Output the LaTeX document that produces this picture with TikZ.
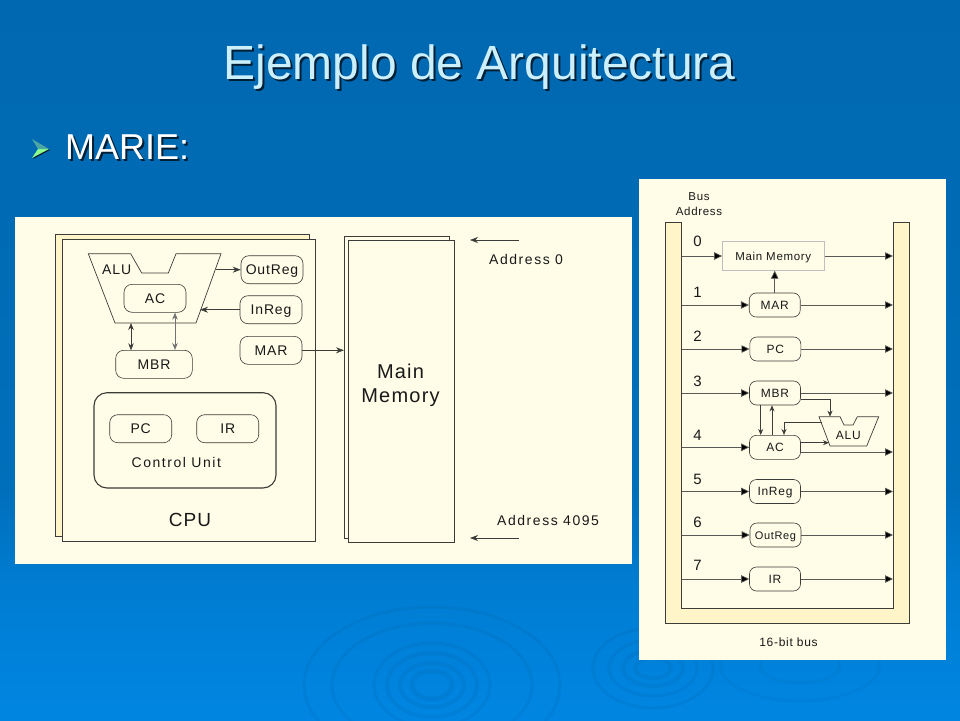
\documentclass[tikz,border=0pt]{standalone}
\usepackage{fontspec}
\usetikzlibrary{arrows.meta}
\setmainfont{Liberation Sans}
\newfontfamily\regfont[LetterSpace=6]{Liberation Sans}
\newfontfamily\widefont[LetterSpace=11]{Liberation Sans}
\definecolor{slidetop}{HTML}{0068B0}
\definecolor{panel}{HTML}{FFFDE8}
\definecolor{busfill}{HTML}{FFF5C8}
\definecolor{ink}{HTML}{3C3C38}
\pgfdeclareverticalshading{slideback}{100bp}{
	rgb(0bp)=(0,0.525,0.886);
	rgb(25bp)=(0,0.525,0.886);
	rgb(34bp)=(0,0.490,0.825);
	rgb(41bp)=(0,0.435,0.733);
	rgb(75bp)=(0,0.408,0.690);
	rgb(100bp)=(0,0.408,0.690)}
\tikzset{
	wire/.style={draw=ink, line width=0.7pt},
	reg/.style={draw=ink, line width=0.6pt, fill=panel, rounded corners=8pt, inner sep=0pt, text=black!90,
		font=\regfont\fontsize{14}{16}\selectfont, text height=10pt, text depth=0pt, minimum width=62pt, minimum height=28pt},
	smallreg/.style={reg, rounded corners=7pt, minimum width=51pt, minimum height=24pt,
		font=\regfont\fontsize{12}{14}\selectfont, text height=8.6pt},
	note/.style={text=black!90, inner sep=0pt, text height=10pt, text depth=0pt, font=\widefont\fontsize{14}{16}\selectfont},
	busnum/.style={text=black!90, inner sep=0pt, font=\fontsize{15}{17}\selectfont},
	leftarr/.style={wire, -{Stealth[length=8pt,width=6pt]}},
	bothleft/.style={wire, {Stealth[length=7pt,width=5.5pt]}-{Stealth[length=7pt,width=5.5pt]}},
	busarr/.style={wire, draw=ink!85, -{Triangle[length=8pt,width=7.5pt,fill=black]}},
	tinyarr/.style={wire, -{Stealth[length=6pt,width=5pt]}},
	ripple/.style={draw=black, opacity=0.04}
}
\begin{document}
\begin{tikzpicture}[x=1pt,y=-1pt]
	\useasboundingbox (0,0) rectangle (960,720);
	\shade[shading=slideback] (0,0) rectangle (960,720);
	% ripples
	\begin{scope}
		\clip (0,0) rectangle (960,720);
		\foreach \rx/\ry/\lw in {20/14/5, 32/22/4, 45/32/4, 58/42/3, 100/62/3, 128/78/3}
			\draw[ripple, line width=\lw pt] (432,685) ellipse ({\rx pt} and {\ry pt});
		\foreach \rx/\ry/\lw in {18/10/4, 30/18/4, 44/28/3, 60/40/3}
			\draw[ripple, line width=\lw pt] (653,668) ellipse ({\rx pt} and {\ry pt});
		\foreach \rx/\ry/\lw in {40/18/3, 80/36/3}
			\draw[ripple, line width=\lw pt, opacity=0.025] (800,665) ellipse ({\rx pt} and {\ry pt});
	\end{scope}

	% title
	\node[anchor=base, inner sep=0pt, text=black!70!slidetop, font=\fontsize{48}{56}\selectfont] (titleshade) at (481.5,81) {Ejemplo de Arquitectura};
	\node[anchor=base, inner sep=0pt, text=white!80!cyan, font=\fontsize{48}{56}\selectfont] (title) at (479.5,79) {Ejemplo de Arquitectura};
	\fill[black!70!slidetop] (33,140) -- (50,150) -- (33,159) -- (39,150) -- cycle;
	\fill[green!45!white] (32,158) -- (49,149) -- (38,149) -- cycle;
	\fill[teal!70!white] (32,139) -- (49,149) -- (38,149) -- cycle;
	\node[anchor=base west, inner sep=0pt, text=black!70!slidetop, font=\fontsize{36}{42}\selectfont] (marieshade) at (67,161) {MARIE:};
	\node[anchor=base west, inner sep=0pt, text=white, font=\fontsize{36}{42}\selectfont] (marie) at (65,159) {MARIE:};

	% left panel
	\fill[panel] (15,217) rectangle (632,564);
	\draw[wire, fill=busfill] (55,234) rectangle (309,536);
	\draw[wire, fill=panel] (62,239.5) rectangle (315,541);
	\draw[wire, fill=panel] (88.3,253.7) -- (130.7,253.7) -- (141.7,273) -- (168.3,273) -- (176,253.7)
		-- (221,253.7) -- (196,323) -- (115,323) -- cycle;
	\node[inner sep=0pt, text=black!90, text height=10pt, text depth=0pt, font=\regfont\fontsize{14}{16}\selectfont] (alu) at (116.7,269) {ALU};
	\node[reg] (ac) at (155,298.3) {AC};
	\node[reg, minimum width=76.6pt] (mbr) at (154,364.3) {MBR};
	\node[reg] (outreg) at (272,269.7) {OutReg};
	\node[reg] (inreg) at (271,309.7) {InReg};
	\node[reg] (mar) at (271,350.3) {MAR};
	\draw[wire, line width=1.1pt, rounded corners=13pt] (94,392.7) rectangle (276,488);
	\node[reg] (pc) at (140.7,428.7) {PC};
	\node[reg] (ir) at (227.7,428.7) {IR};
	\node[note] (ctrl) at (176.3,462.7) {Control Unit};
	\node[inner sep=0pt, text=black!90, font=\regfont\fontsize{19}{22}\selectfont] (cpu) at (190,519.7) {CPU};
	\coordinate (aluout) at (216,269.7);
	\coordinate (aluin) at (200,309.7);
	\coordinate (alulow) at (131,323);
	\coordinate (mbrup) at (131,350.3);
	\draw[leftarr] (aluout) -- (outreg.west);
	\draw[leftarr] (inreg.west) -- (aluin);
	\draw[bothleft] (alulow) -- (mbrup);
	\draw[bothleft, draw=black!55] ([xshift=20pt]ac.south) -- ([xshift=21pt]mbr.north);

	\draw[wire, fill=panel] (344,236) rectangle (449,538);
	\draw[wire, fill=panel] (348,240) rectangle (454,542);
	\node[align=center, inner sep=0pt, text=black!90, font=\regfont\fontsize{20}{24}\selectfont] (mem) at (400.5,385.5) {Main\\Memory};
	\coordinate (memin) at (344,350.3);
	\draw[leftarr] (mar.east) -- (memin);
	\node[note, anchor=west] (addr0) at (489,259.5) {Address 0};
	\node[note, anchor=west] (addrn) at (497,520.5) {Address 4095};
	\coordinate (top0) at (519,240);
	\coordinate (top1) at (470,240);
	\coordinate (low0) at (519,538);
	\coordinate (low1) at (470,538);
	\draw[leftarr] (top0) -- (top1);
	\draw[leftarr] (low0) -- (low1);

	% right panel
	\fill[panel] (639,179) rectangle (946,660);
	\draw[wire, fill=busfill] (665.3,222.3) -- (681.7,222.3) -- (681.7,608.3) -- (893.3,608.3) -- (893.3,222.3)
		-- (909.7,222.3) -- (909.7,623.3) -- (665.3,623.3) -- cycle;
	\node[align=center, inner sep=0pt, text=black!90, font=\regfont\fontsize{11.5}{15}\selectfont] (busname) at (699,204.5) {Bus\\Address};
	\node[inner sep=0pt, text=black!90, font=\regfont\fontsize{12}{14}\selectfont] (buswidth) at (788.5,642) {16-bit bus};
	\node[draw=black!25, fill=panel, minimum width=102pt, minimum height=29pt, inner sep=0pt, text=black!90,
		text height=8.3pt, text depth=0pt, font=\regfont\fontsize{11.5}{14}\selectfont] (memory) at (773.3,256) {Main Memory};
	\node[smallreg] (bmar) at (774.7,305) {MAR};
	\node[smallreg] (bpc) at (775.3,349) {PC};
	\node[smallreg] (bmbr) at (775,393) {MBR};
	\node[smallreg] (bac) at (775,447.3) {AC};
	\node[smallreg] (binreg) at (775,491.5) {InReg};
	\node[smallreg, font=\regfont\fontsize{11}{13}\selectfont] (boutreg) at (775.5,535) {OutReg};
	\node[smallreg] (bir) at (775,579) {IR};
	\foreach \n/\ypos/\reg in {0/241.7/memory, 1/292.3/bmar, 2/336.7/bpc, 3/381/bmbr, 4/435/bac, 5/479/binreg, 6/522/boutreg, 7/565.7/bir} {
		\node[busnum] (num\n) at (697.5,\ypos) {\n};
		\draw[busarr] (681.7,0 |- \reg.west) -- (\reg.west);
	}
	\foreach \n/\reg in {0/memory, 1/bmar, 2/bpc, 3/bmbr, 5/binreg, 6/boutreg, 7/bir}
		\draw[busarr] (\reg.east) -- (893,0 |- \reg.east);
	\draw[busarr] ([yshift=-4.7pt]bac.east) -- (893,452);
	\draw[busarr] (bmar.north) -- (memory.south -| bmar.north);

	% small alu
	\draw[wire, fill=panel] (819,416.7) -- (840,416.7) -- (844,425) -- (853,425) -- (857.3,416.7) -- (878.7,416.7)
		-- (866.7,446) -- (830,446) -- cycle;
	\node[inner sep=0pt, text=black!90, font=\regfont\fontsize{12}{14}\selectfont] (balu) at (848.3,435.3) {ALU};
	\coordinate (balutop) at (830,416.7);
	\coordinate (baluout) at (822,422);
	\coordinate (baluin) at (829,442.7);
	\draw[tinyarr] ([yshift=-6.3pt]bmbr.east) -| (balutop);
	\draw[tinyarr] ([xshift=-14.3pt]bmbr.south) -- ([xshift=-14.3pt]bac.north);
	\draw[tinyarr] ([xshift=-3pt]bac.north) -- ([xshift=-3pt]bmbr.south);
	\draw[tinyarr] (baluout) -| ([xshift=9pt]bac.north);
	\draw[tinyarr] ([yshift=4.6pt]bac.east) -- (baluin);
\end{tikzpicture}
\end{document}
